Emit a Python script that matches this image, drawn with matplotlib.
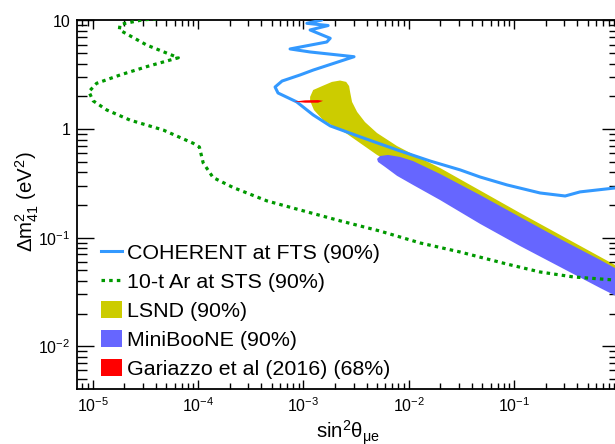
import numpy as np
import matplotlib
matplotlib.use('Agg')
from matplotlib import pyplot as plt
from matplotlib.ticker import LogLocator, NullFormatter, FuncFormatter
from matplotlib.patches import Patch
from matplotlib.lines import Line2D

plt.rcParams['font.family'] = ['Liberation Sans', 'DejaVu Sans']
plt.rcParams['mathtext.fontset'] = 'custom'
plt.rcParams['mathtext.rm'] = 'Liberation Sans'
plt.rcParams['mathtext.it'] = 'Liberation Sans:italic'
plt.rcParams['mathtext.bf'] = 'Liberation Sans:bold'

# 10-t Ar at STS (90%) sensitivity, dotted green
ar_s2 = [1.3e-4, 2.92e-5, 1.82e-5, 1.79e-5, 3.26e-5, 6.50e-5, 3.26e-5, 1.82e-5, 1.09e-5, 9.2e-6,
         1.01e-5, 1.36e-5, 2.26e-5, 4.68e-5, 9.0e-5, 1.03e-4, 1.12e-4, 1.39e-4, 2.15e-4,
         4.52e-4, 9.3e-4, 2.23e-3, 5.36e-3, 1.29e-2, 3.08e-2, 8.6e-2, 0.177, 0.365, 0.914, 1.2]
ar_dm2 = [11.5, 10.1, 9.2, 8.2, 5.94, 4.54, 3.76, 3.15, 2.64, 2.21,
          1.82, 1.50, 1.21, 0.98, 0.74, 0.684, 0.488, 0.358, 0.290,
          0.218, 0.180, 0.143, 0.115, 0.0893, 0.0738, 0.0571, 0.0483, 0.0435, 0.0407, 0.0400]

# COHERENT at FTS (90%), solid light blue
coh_s2 = [1.24e-3, 1.50e-3, 1.08e-3, 1.72e-3, 1.16e-3, 1.80e-3, 1.67e-3, 7.48e-4, 1.16e-3,
          3.03e-3, 1.245e-3, 9.3e-4, 6.28e-4, 5.39e-4, 5.75e-4, 8.65e-4, 1.24e-3, 1.80e-3,
          3.69e-3, 7.76e-3, 1.60e-2, 3.08e-2, 4.77e-2, 8.59e-2, 0.177, 0.306, 0.424, 0.914, 1.2]
coh_dm2 = [11.5, 10.1, 9.42, 8.99, 8.18, 6.86, 6.34, 5.47, 5.13,
           4.64, 3.50, 3.15, 2.77, 2.44, 2.15, 1.78, 1.35, 1.07,
           0.83, 0.643, 0.508, 0.421, 0.362, 0.306, 0.258, 0.242, 0.264, 0.287, 0.29]

# LSND (90%) allowed region
lsnd_s2 = [1.16e-3, 1.24e-3, 1.51e-3, 1.87e-3, 2.23e-3, 2.55e-3, 2.72e-3, 2.78e-3, 2.90e-3,
           3.24e-3, 3.85e-3, 5.01e-3, 7.76e-3, 1.28e-2, 1.99e-2, 0.114, 1.2,
           1.2, 0.114, 1.99e-2, 8.28e-3, 5.01e-3, 2.60e-3, 1.54e-3, 1.26e-3, 1.16e-3]
lsnd_dm2 = [1.98, 2.29, 2.49, 2.72, 2.80, 2.72, 2.49, 2.20, 1.78,
            1.44, 1.16, 0.92, 0.698, 0.542, 0.438, 0.169, 0.0484,
            0.034, 0.1127, 0.287, 0.438, 0.578, 0.902, 1.21, 1.50, 1.82]

# MiniBooNE (90%) allowed region
mb_s2 = [5.01e-3, 5.35e-3, 6.37e-3, 8.28e-3, 1.10e-2, 1.99e-2, 4.77e-2, 0.114, 0.274, 0.658, 1.2,
         1.2, 0.658, 0.274, 0.114, 4.77e-2, 1.99e-2, 1.10e-2, 7.76e-3, 5.97e-3, 5.12e-3]
mb_dm2 = [0.531, 0.565, 0.578, 0.554, 0.508, 0.386, 0.247, 0.155, 0.0973, 0.0624, 0.0453,
          0.0256, 0.0344, 0.0537, 0.0839, 0.134, 0.222, 0.306, 0.371, 0.448, 0.498]

# Gariazzo et al (2016) (68%)
gar_s2 = [8.17e-4, 1.04e-3, 1.38e-3, 1.54e-3, 1.38e-3, 1.04e-3]
gar_dm2 = [1.79, 1.84, 1.85, 1.82, 1.75, 1.75]

labels = ['COHERENT at FTS (90%)', '10-t Ar at STS (90%)', 'LSND (90%)',
          'MiniBooNE (90%)', 'Gariazzo et al (2016) (68%)']

c_coh = '#3399ff'
c_ar = '#009900'
c_lsnd = '#cccc00'
c_mb = '#6666ff'
c_gar = '#ff0000'

W, H = 615, 444
fig = plt.figure(figsize=(W / 100, H / 100), dpi=100)
x0, x1, y0, y1 = 76.7, 619.3, 20.5, 389
ax = fig.add_axes([x0 / W, 1 - y1 / H, (x1 - x0) / W, (y1 - y0) / H])
ax.set_xscale('log')
ax.set_yscale('log')

ax.fill(lsnd_s2, lsnd_dm2, color=c_lsnd, lw=0, zorder=1)
ax.fill(mb_s2, mb_dm2, color=c_mb, lw=0, zorder=2)
ax.fill(gar_s2, gar_dm2, color=c_gar, lw=0, zorder=5)
ax.plot(coh_s2, coh_dm2, color=c_coh, lw=2.2, zorder=3)
ax.plot(ar_s2, ar_dm2, color=c_ar, lw=2.3, linestyle=(0, (1.1, 1.3)), zorder=4)

ax.set_xlim(7.05e-6, 1.0)
ax.set_ylim(0.00404, 10)

def fmt(v, pos):
    e = int(round(np.log10(v)))
    if e == 0:
        return '1'
    if e == 1:
        return '10'
    return r'$\mathdefault{10^{%d}}$' % e

ax.set_xticks([1e-5, 1e-4, 1e-3, 1e-2, 1e-1])
ax.xaxis.set_minor_locator(LogLocator(base=10, subs=np.arange(2, 10), numticks=100))
ax.xaxis.set_major_formatter(FuncFormatter(fmt))
ax.xaxis.set_minor_formatter(NullFormatter())
ax.yaxis.set_major_locator(LogLocator(base=10, numticks=100))
ax.yaxis.set_minor_locator(LogLocator(base=10, subs=np.arange(2, 10), numticks=100))
ax.yaxis.set_major_formatter(FuncFormatter(fmt))
ax.yaxis.set_minor_formatter(NullFormatter())

ax.tick_params(which='both', direction='in', top=True, right=True, width=1.0, labelsize=11.5)
ax.tick_params(axis='x', which='major', length=6.5, pad=5.5)
ax.tick_params(axis='x', which='minor', length=4)
ax.tick_params(axis='y', which='major', length=11.9, pad=4.5)
ax.tick_params(axis='y', which='minor', length=7.2)
for s in ax.spines.values():
    s.set_linewidth(1.3)

ax.set_xlabel(r'sin$^{2}$θ$_{\mathrm{μe}}$', fontsize=14.7, va='baseline')
ax.xaxis.set_label_coords((347.5 - x0) / (x1 - x0), (y1 - 438) / (y1 - y0))
ax.set_ylabel(r'Δm$^{2}_{41}$ (eV$^{2}$)', fontsize=14.7, va='center')
ax.yaxis.set_label_coords((27 - x0) / (x1 - x0), (y1 - 202) / (y1 - y0))

handles = [Line2D([], [], color=c_coh, lw=2.2),
           Line2D([], [], color=c_ar, lw=2.3, linestyle=(0, (1.1, 1.3))),
           Patch(color=c_lsnd, lw=0), Patch(color=c_mb, lw=0), Patch(color=c_gar, lw=0)]
fig.legend(handles, labels, loc='upper left', bbox_to_anchor=(101 / W, 1 - 243 / H),
           frameon=False, fontsize=15.4, handlelength=1.0, handleheight=0.85,
           handletextpad=0.2, labelspacing=0.42, borderpad=0, borderaxespad=0)

fig.savefig('out.png', dpi=100)
